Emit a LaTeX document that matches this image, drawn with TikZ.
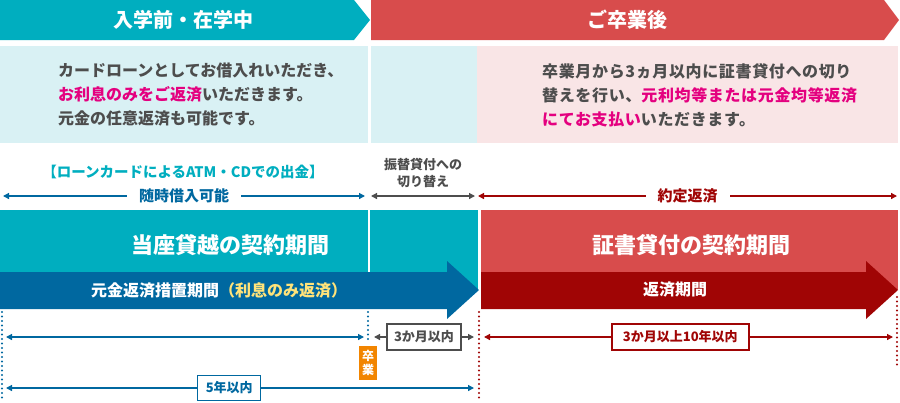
\documentclass[tikz,border=0pt]{standalone}
\usepackage{fontspec}
\setmainfont{Noto Sans CJK JP}
\usetikzlibrary{arrows.meta}
\definecolor{bteal}{HTML}{00AEBF}
\definecolor{bred}{HTML}{D84C4C}
\definecolor{lcyan}{HTML}{D9F1F4}
\definecolor{lpink}{HTML}{F9E5E6}
\definecolor{dblue}{HTML}{0068A0}
\definecolor{dred}{HTML}{A00505}
\definecolor{txtgray}{HTML}{4D4D4D}
\definecolor{hilite}{HTML}{E4007F}
\definecolor{hyellow}{HTML}{FFE37A}
\definecolor{gorange}{HTML}{F28500}
\tikzset{
  twoway/.style={{Triangle[length=6pt,width=6pt]}-{Triangle[length=6pt,width=6pt]},line width=1.3pt},
  dotline/.style={line width=2.4pt,line cap=round,dash pattern=on 0pt off 4.5pt},
  spanbox/.style={draw,line width=1.5pt,fill=white,minimum height=26pt,inner sep=0pt,font=\bfseries\fontsize{13}{15}\selectfont},
  headtxt/.style={text=white,font=\bfseries\fontsize{20}{24}\selectfont},
  bodytxt/.style={anchor=west,align=left,text=txtgray,font=\bfseries\fontsize{16}{24}\selectfont},
  termtxt/.style={text=white,font=\bfseries\fontsize{22}{26}\selectfont},
  bartxt/.style={text=white,font=\bfseries\fontsize{16}{20}\selectfont}
}
\begin{document}
\begin{tikzpicture}[x=1pt,y=-1pt,every node/.style={inner sep=0pt}]
\path[use as bounding box] (0,0) rectangle (900,402);
\fill[bteal] (0,0) -- (354,0) -- (370,20) -- (354,40) -- (0,40) -- cycle;
\fill[bred] (371,0) -- (884,0) -- (899,20) -- (884,40) -- (371,40) -- cycle;
\node[headtxt] (preHead) at (183,20) {入学前・在学中};
\node[headtxt] (postHead) at (627,20) {ご卒業後};
\fill[lcyan] (0,46) rectangle (368,143);
\fill[lcyan] (371,46) rectangle (477,143);
\fill[lpink] (477,46) rectangle (898,143);
\node[bodytxt] (preTxt) at (58,95) {カードローンとしてお借入れいただき、\\\textcolor{hilite}{お利息のみをご返済}いただきます。\\元金の任意返済も可能です。};
\node[bodytxt,font=\bfseries\fontsize{16}{24}\selectfont\addfontfeature{LetterSpace=4}] (postTxt) at (542,95) {卒業月から3ヵ月以内に証書貸付への切り\\替えを行い、\textcolor{hilite}{元利均等または元金均等返済}\\\textcolor{hilite}{にてお支払い}いただきます。};
\node[text=bteal,font=\bfseries\fontsize{14.5}{16}\selectfont] (atmTxt) at (183,172) {【ローンカードによるATM・CDでの出金】};
\node[text=txtgray,align=center,font=\bfseries\fontsize{13}{17}\selectfont] (swTxt) at (423,173) {振替貸付への\\切り替え};
\coordinate (a1L) at (3,196);
\coordinate (a1R) at (365,196);
\coordinate (a2L) at (371,196);
\coordinate (a2R) at (475,196);
\coordinate (a3L) at (478,196);
\coordinate (a3R) at (897,196);
\draw[twoway,dblue] (a1L) -- node[fill=white,inner xsep=12pt,text=dblue,font=\bfseries\fontsize{15}{17}\selectfont] (anyTime) {随時借入可能} (a1R);
\draw[twoway,txtgray] (a2L) -- (a2R);
\draw[twoway,dred] (a3L) -- node[fill=white,inner xsep=12pt,text=dred,font=\bfseries\fontsize{15}{17}\selectfont] (fixedRep) {約定返済} (a3R);
\fill[bteal] (0,210) rectangle (478,290);
\fill[bred] (481,210) rectangle (898,290);
\draw[white,line width=1.5pt] (369,210) -- (369,290);
\node[termtxt] (odTerm) at (230,245) {当座貸越の契約期間};
\node[termtxt] (lnTerm) at (691,245) {証書貸付の契約期間};
\fill[dblue] (0,272) -- (447,272) -- (447,261) -- (479,290) -- (447,319) -- (447,309) -- (0,309) -- cycle;
\fill[dred] (481,272) -- (866,272) -- (866,261) -- (898,290) -- (866,319) -- (866,309) -- (481,309) -- cycle;
\node[bartxt] (graceBar) at (219,290) {元金返済措置期間\textcolor{hyellow}{（利息のみ返済）}};
\node[bartxt] (repBar) at (675,290) {返済期間};
\node[fill=gorange,minimum width=18pt,minimum height=34pt,align=center,text=white,font=\bfseries\fontsize{12}{14}\selectfont] (grad) at (368,363) {卒\\業};
\coordinate (d1T) at (2,312);
\coordinate (d1B) at (2,401);
\coordinate (d2T) at (368,312);
\coordinate (d3T) at (479,312);
\coordinate (d3B) at (479,401);
\coordinate (d4T) at (897,297);
\coordinate (d4B) at (897,366);
\draw[dotline,dblue] (d1T) -- (d1B);
\draw[dotline,dblue] (d2T) -- ([yshift=4pt]grad.north);
\draw[dotline,dred] (d3T) -- (d3B);
\draw[dotline,dred] (d4T) -- (d4B);
\coordinate (b1L) at (6,337);
\coordinate (b1R) at (364,337);
\coordinate (b2L) at (374,337);
\coordinate (b2R) at (474,337);
\coordinate (b3L) at (484,337);
\coordinate (b3R) at (893,337);
\coordinate (c1L) at (6,388);
\coordinate (c1R) at (474,388);
\draw[twoway,dblue] (b1L) -- (b1R);
\draw[twoway,txtgray] (b2L) -- node[spanbox,text=txtgray,minimum width=74pt] (in3m) {3か月以内} (b2R);
\draw[twoway,dred] (b3L) -- node[spanbox,text=dred,minimum width=137pt,pos=0.48] (in10y) {3か月以上10年以内} (b3R);
\draw[twoway,dblue] (c1L) -- node[spanbox,text=dblue,minimum width=63pt,minimum height=25pt,pos=0.477] (in5y) {5年以内} (c1R);
\end{tikzpicture}
\end{document}
